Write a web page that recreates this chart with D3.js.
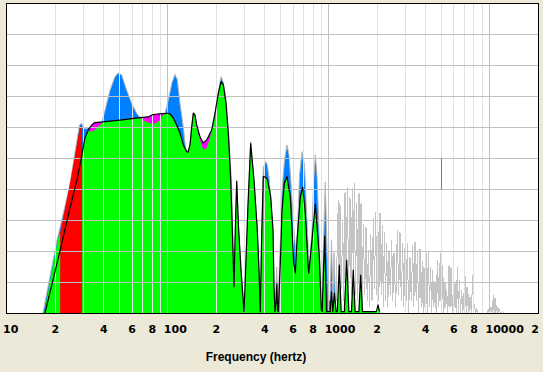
<!DOCTYPE html>
<html><head><meta charset="utf-8">
<script src="https://cdn.jsdelivr.net/npm/d3@7"></script>
<style>
html,body{margin:0;padding:0;background:#ECE9D8;}
svg{display:block;}
</style></head><body>
<svg id="chart" width="543" height="372"></svg>
<script>
// ---------- DATA (frequency in Hz, level in dB above plot floor) ----------
// gray outline / blue-filled envelope (low & mid band)
const blueFreq = [16.7,20.5,24.5,28.2,29.1,29.9,31.0,32.3,33.8,36.3,38.8,40.7,43.7,46.9,49.2,51.6,55.5,59.6,64.0,67.1,77.4,89.4,96.0,100.6,105.7,110.8,114.5,119.0,124.7,129.1,132.5,137.3,140.7,144.0,147.5,151.8,166.1,182.8,196.4,205.9,214.0,221.2,229.8,237.5,243.4,249.4,257.7,267.9,274.9,284.9,297.4,306.0,314.9,327.3,343.3,359.7,368.6,375.5,382.0,392.0,405.7,415.1,425.4,435.8,450.4,457.0,463.4,474.9,483.8,512.4,531.0,550.3,566.2,583.1,599.8,620.0,626.1,640,658,682,707,728,748.7,754.2,787.1,806.5,825.3,845.6,870,895.5,908.3,921.5,952,976,996.9,1018.5,1040.6,1063.1,1078.5,1101.9,1110];
const blueDb   = [0,11.9,20.5,30.4,30.7,29.9,29.8,30.0,29.8,29.5,30.9,32.8,36.0,38.2,38.8,38.5,36.0,33.9,32.3,31.6,30.5,30.8,32.3,34.4,37.1,38.6,37.7,33.9,30.1,26.6,25.9,27.0,30.0,32.5,32.1,29.8,26.0,28.0,32.2,35.7,38.2,37.3,34.8,29.9,25.6,20.5,4.3,21.5,14.2,7.0,0.3,8.6,17.5,27.7,21.5,13.5,7.0,0.3,11.0,23.5,24.5,24.0,22.0,19.0,13.5,4.3,0.3,7.5,0.3,19.9,24.8,27.2,25.6,21.0,15.5,10.8,7.0,13.5,22.3,26.1,24.0,16.7,9.4,6.5,13.5,21.5,25.6,22.3,13.5,2.2,0.5,8.6,21.2,10.2,2.2,2.0,11.9,2.0,9.8,2.0,2.0];

// gray envelope (high band, outline only)
const grayHiFreq = [1110,1147,1162,1175,1197,1222,1241,1263,1285,1305,1331,1356,1380,1402,1422,1442,1467,1493,1517,1543,1565,1588,1615,1641,1674,1705,1735,1763,1793,1824,1858,1893,1926,1960,1988,2017,2049,2084,2120,2154,2185,2217,2254,2293,2330,2370,2415,2464,2503,2546,2609,2669,2723,2774,2826,2883,2929,2980,3032,3080,3142,3201,3261,3327,3380,3439,3498,3554,3626,3694,3758,3817,3867,3911,3968,4025,4095,4160,4232,4305,4368,4431,4501,4579,4658,4732,4801,4870,4919,4969,5040,5113,5194,5284,5345,5415,5501,5596,5677,5759,5859,5952,6029,6098,6204,6302,6393,6486,6598,6712,6819,6937,7017,7108,7211,7315,7431,7559,7702,7858,7948,8040,8179,8321,8477,9636,9817,9989,10206,10383,10547,10684,10807,10931,11073,11249,11444,11692,12066,12293];
const grayHiDb   = [2,18.3,3,17.8,4,14.8,2,19.6,3,20.4,4,18.8,3,20.2,5,21.0,3,17.8,2,19.4,4,17.8,1,14.5,3,14.0,2,10.2,1,12.9,2,15.4,4,16.4,3,17.0,2,16.2,3,14.2,1,13.1,2,11.3,1,10.2,3,11.9,2,9.7,1,13.5,3,13.1,2,11.3,1,10.5,2,11.3,0,9.1,2,11.0,1,11.6,2,10.2,0,10.4,1,8.5,0,7.5,1,9.8,0,10.0,1,7.5,0,7.0,1,4.9,0,8.6,1,8.1,2,9.8,0,7.8,0,4.9,1,3.8,0,7.8,1,7.5,0,4.3,1,4.9,0,7.5,0,5.4,0,3.8,0,3.3,0,6.1,0,4.3,0,2.7,0,6.2,0,1.6,0,0.8,0,0,0.6,0,1.1,0,3.0,0,2.5,0,1.4,0,0.8,0,0.3,0];

// black response line (magenta shows where it exceeds the green fill)
const blackFreq = [17.2,21.4,24.6,27.2,29.1,30.5,32.0,33.6,35.2,39.5,50.4,58.2,67.1,75.2,80.8,89.4,98.8,103.1,108.1,113.5,119.0,124.7,131.0,133.5,137.3,140.7,144.0,147.5,151.1,158.4,166.1,174.4,187.3,196.4,205.9,214.0,221.2,229.8,237.5,245.8,251.5,257.7,261.5,267.9,274.9,284.9,297.4,306.0,314.9,327.3,343.3,359.7,368.6,375.5,382.0,392.0,404.6,416.3,435.8,450.4,457.0,463.4,471,476,481,486,500,512.4,530,550.3,577.0,591.2,605.7,620.0,635.2,665.8,689.1,715.3,743.5,750.9,787.1,825.3,873.8,899.4,910,944,969,1020,1040,1060,1085,1110,1130,1164,1195,1250,1293,1335,1385,1421,1460,1540,1581,1620,1980,2025,2070];
const blackDb   = [0,10.2,17.0,21.5,25.3,28.3,29.6,30.4,30.8,30.9,31.2,31.4,31.6,31.7,32.1,32.2,32.3,32.2,31.5,30.4,29.1,27.2,26.1,26.0,27.2,30.1,32.3,32.0,30.4,28.5,27.5,28.0,29.6,32.3,35.5,37.4,36.9,33.9,29.1,21.6,13.6,4.3,11.9,21.3,14.0,7.0,0.3,8.6,17.5,27.4,21.5,13.5,7.0,0.3,11.0,22.1,22.0,21.6,18.8,13.5,4.3,0.3,2.0,4.8,0.5,0.3,8.0,16.7,21.0,22.1,18.8,13.5,8.1,6.5,11.8,18.8,20.4,16.2,8.1,6.5,11.8,17.7,9.2,0.6,0.3,12.5,0.3,0.3,3.5,0.3,3.3,0.3,0.3,7.8,0.3,0.3,8.6,0.3,0.3,7.0,0.3,0.3,6.2,0.3,0.3,1.4,0.3];

// green filled response
const greenFreq = [17.0,18.5,20.7,21.4,24.6,27.2,29.1,30.5,32.0,32.8,35.2,37.9,39.8,50.4,58.2,67.1,72.1,77.4,83.2,89.4,93.3,98.8,103.1,108.1,113.5,119.0,124.7,131.0,133.5,137.3,140.7,144.0,147.5,151.1,158.4,166.1,174.4,182.8,191.0,196.4,205.9,214.0,221.2,229.8,237.5,245.8,251.5,257.7,261.5,267.9,274.9,284.9,297.4,306.0,314.9,327.3,343.3,359.7,368.6,375.5,382.0,392.0,404.6,416.3,435.8,450.4,457.0,463.4,471,476,481,486,500,512.4,530,550.3,577.0,591.2,605.7,620.0,635.2,665.8,689.1,715.3,743.5,750.9,787.1,825.3,873.8,899.4,910,944,969,1020,1040,1060,1085,1110,1130,1164,1195,1250,1293,1335,1385,1421,1460,1540,1581,1620,1980,2025,2070];
const greenDb   = [0,5.1,11.9,13.0,19.5,23.5,25.8,28.3,29.6,29.3,29.6,30.4,30.9,31.2,31.4,31.5,31.0,30.7,30.6,31.2,32.0,32.3,32.2,31.5,30.4,29.1,27.2,26.1,26.0,27.2,30.1,32.3,32.0,29.9,28.0,26.4,26.7,28.3,30.6,32.3,35.5,37.4,36.9,33.9,29.1,21.6,13.6,4.3,11.9,21.3,14.0,7.0,0.3,8.6,17.5,27.4,21.5,13.5,7.0,0.3,11.0,22.1,22.0,21.6,18.8,13.5,4.3,0.3,2.0,4.8,0.5,0.3,8.0,16.7,21.0,22.1,18.8,13.5,8.1,6.5,11.8,18.8,20.4,16.2,8.1,6.5,11.8,17.7,9.2,0.6,0.3,12.5,0.3,0.3,3.5,0.3,3.3,0.3,0.3,7.8,0.3,0.3,8.6,0.3,0.3,7.0,0.3,0.3,6.2,0.3,0.3,1.4,0.3];

// red band
const redFreq = [21.4,24.8,28.4,29.3];
const redDb   = [13.0,21.4,30.1,30.3];

// marker
const markerFreq = [5000];
const markerDb = [20, 25];

// axes
const xDomain = [10, 20000];
const yDomain = [0, 50];
const yGridLevels = [5,10,15,20,25,30,35,40,45];
const gridFreqs = [20,30,40,50,60,70,80,90,100,200,300,400,500,600,700,800,900,1000,2000,3000,4000,5000,6000,7000,8000,9000,10000];
const majorFreqs = [100,1000,10000];
const tickFreqs  = [10,20,40,60,80,100,200,400,600,800,1000,2000,4000,6000,8000,10000,20000];
const tickLabels = ["10","2","4","6","8","100","2","4","6","8","1000","2","4","6","8","10000","2"];
const axisTitle = "Frequency (hertz)";

// ---------- DRAWING ----------
const W = 543, H = 372;
const svg = d3.select("#chart");
const x = d3.scaleLog().domain(xDomain).range([7, 538]);
const y = d3.scaleLinear().domain(yDomain).range([313.5, 3.5]);

svg.append("rect").attr("x",0).attr("y",0).attr("width",W).attr("height",H).attr("fill","#ECE9D8");
svg.append("rect").attr("x",6.5).attr("y",3.5).attr("width",532).attr("height",310).attr("fill","#FFFFFF");

const defs = svg.append("defs");
defs.append("clipPath").attr("id","clip").append("rect")
  .attr("x",7).attr("y",4).attr("width",531).attr("height",309.5);
const g = svg.append("g").attr("clip-path","url(#clip)");

const area = d3.area().x(d=>x(d[0])).y0(y(0)).y1(d=>y(d[1]));
const line = d3.line().x(d=>x(d[0])).y(d=>y(d[1]));

const blue = d3.zip(blueFreq, blueDb);
const grayHi = d3.zip(grayHiFreq, grayHiDb);
const black = d3.zip(blackFreq, blackDb);
const green = d3.zip(greenFreq, greenDb);
const red = d3.zip(redFreq, redDb);

g.append("path").datum(blue).attr("d",area).attr("fill","#0080FF");
g.append("path").datum(blue).attr("d",line).attr("fill","none").attr("stroke","#B8B8B8").attr("stroke-width",1);
g.append("path").datum(grayHi).attr("d",line).attr("fill","none").attr("stroke","#C4C4C4")
  .attr("stroke-width",1).attr("shape-rendering","crispEdges");
g.append("path").datum(black).attr("d",area).attr("fill","#FF00FF");
g.append("path").datum(green).attr("d",area).attr("fill","#00FF00");
g.append("path").datum(red).attr("d",area).attr("fill","#FF0000");

// grid on top of fills
gridFreqs.forEach(f=>{
  const px = Math.floor(x(f)) + 0.5;
  g.append("line").attr("x1",px).attr("x2",px).attr("y1",4).attr("y2",313)
    .attr("stroke", majorFreqs.includes(f) ? "#C0C0C0" : "#E2E2E2").attr("stroke-width",1);
});
yGridLevels.forEach(v=>{
  const py = Math.floor(y(v)) + 0.5;
  g.append("line").attr("x1",7).attr("x2",538).attr("y1",py).attr("y2",py)
    .attr("stroke","#C0C0C0").attr("stroke-width",1);
});

g.append("path").datum(black).attr("d",line).attr("fill","none").attr("stroke","#000").attr("stroke-width",1.2).attr("stroke-linejoin","round");

// marker
g.append("line").attr("x1",Math.floor(x(markerFreq[0]))+0.5).attr("x2",Math.floor(x(markerFreq[0]))+0.5)
  .attr("y1",y(markerDb[0])).attr("y2",y(markerDb[1])).attr("stroke","#00D000").attr("stroke-width",1);

// border
svg.append("rect").attr("x",6.5).attr("y",3.5).attr("width",532).attr("height",310)
  .attr("fill","none").attr("stroke","#000").attr("stroke-width",1);

// tick labels
tickFreqs.forEach((f,i)=>{
  const lbl = tickLabels[i];
  let px = Math.min(x(f), W - 8);
  const t = svg.append("text").attr("y",333)
    .attr("font-family","'DejaVu Sans', Verdana, sans-serif").attr("font-weight","bold")
    .attr("font-size","11px").attr("fill","#000").text(lbl);
  if (lbl.length > 1) t.attr("x", px - 4).attr("text-anchor","start");
  else t.attr("x", px).attr("text-anchor","middle");
});

svg.append("text").attr("x",256).attr("y",360.5).attr("text-anchor","middle")
  .attr("font-family","'Liberation Sans', Arial, sans-serif").attr("font-weight","bold")
  .attr("font-size","12px").attr("fill","#000").text(axisTitle);
</script>
</body></html>
